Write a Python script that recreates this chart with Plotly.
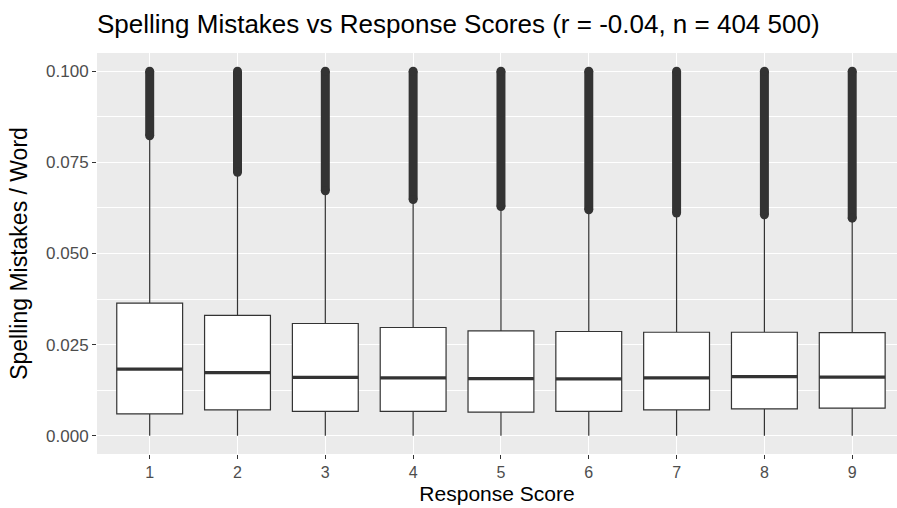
import plotly.graph_objects as go

# response scores and box statistics
scores = [1, 2, 3, 4, 5, 6, 7, 8, 9]
q1 = [0.0060, 0.0071, 0.0067, 0.0067, 0.0065, 0.0067, 0.0071, 0.0074, 0.0076]
median = [0.0183, 0.0173, 0.0160, 0.0159, 0.0157, 0.0156, 0.0159, 0.0162, 0.0161]
q3 = [0.0364, 0.0330, 0.0308, 0.0297, 0.0288, 0.0286, 0.0284, 0.0284, 0.0283]
whisker_low = [0.0, 0.0, 0.0, 0.0, 0.0, 0.0, 0.0, 0.0, 0.0]
whisker_high = [0.0815, 0.0715, 0.0665, 0.0640, 0.0622, 0.0612, 0.0604, 0.0598, 0.0590]
# outliers form a solid column from just above the whisker to the 0.1 cap
outlier_min = [0.0823, 0.0723, 0.0672, 0.0648, 0.0629, 0.0620, 0.0611, 0.0606, 0.0597]
outlier_max = [0.100, 0.100, 0.100, 0.100, 0.100, 0.100, 0.100, 0.100, 0.100]

y_ticks = [0.0, 0.025, 0.05, 0.075, 0.1]
y_labels = ["0.000", "0.025", "0.050", "0.075", "0.100"]

DARK = "#333333"
BOX_W = 0.75
FONT = "Liberation Sans, Arial, sans-serif"
W, H = 897, 508

fig = go.Figure()

fig.add_trace(
    go.Box(
        x=scores, q1=q1, median=median, q3=q3,
        lowerfence=whisker_low, upperfence=whisker_high,
        width=BOX_W, whiskerwidth=0, boxpoints=False,
        fillcolor="white", line=dict(color=DARK, width=1.2),
        hoverinfo="skip",
    )
)

# thick median bars (ggplot fattens the median line)
mx, my = [], []
for s, m in zip(scores, median):
    mx += [s - BOX_W / 2, s + BOX_W / 2, None]
    my += [m, m, None]
fig.add_trace(
    go.Scatter(x=mx, y=my, mode="lines", line=dict(color=DARK, width=3.2), hoverinfo="skip")
)

# outlier columns
ox, oy = [], []
for s, lo, hi in zip(scores, outlier_min, outlier_max):
    ox += [s, s, None]
    oy += [lo, hi, None]
fig.add_trace(
    go.Scatter(
        x=ox, y=oy, mode="lines+markers",
        line=dict(color=DARK, width=9),
        marker=dict(color=DARK, size=9),
        hoverinfo="skip",
    )
)

fig.update_layout(
    width=W, height=H,
    margin=dict(l=97, r=0, t=53, b=54),
    paper_bgcolor="white",
    plot_bgcolor="#EBEBEB",
    showlegend=False,
    font=dict(family=FONT, color="#000000"),
    title=dict(
        text="Spelling Mistakes vs Response Scores (r = -0.04, n = 404 500)",
        xref="container", x=97 / W, xanchor="left",
        yref="container", y=1 - 24 / H, yanchor="middle",
        font=dict(size=26, color="black"),
    ),
)
fig.update_xaxes(
    range=[0.4, 9.51], tickvals=scores, ticktext=[str(s) for s in scores],
    showgrid=True, gridcolor="white", gridwidth=1.1, zeroline=False, automargin=False,
    ticks="outside", ticklen=4, tickcolor=DARK, tickwidth=1.1,
    tickfont=dict(size=16, color="#4D4D4D"),
    title=dict(text="Response Score", font=dict(size=21, color="black"), standoff=6),
)
fig.update_yaxes(
    range=[-0.005, 0.105], tickvals=y_ticks, ticktext=y_labels,
    showgrid=True, gridcolor="white", gridwidth=1.1, zeroline=False, automargin=False,
    minor=dict(dtick=0.0125, tick0=0, showgrid=True, gridcolor="white", gridwidth=0.5),
    ticks="outside", ticklen=4, tickcolor=DARK, tickwidth=1.1,
    tickfont=dict(size=17, color="#4D4D4D"),
    title=dict(text="Spelling Mistakes / Word", font=dict(size=23, color="black"), standoff=12),
)

fig.write_html(
    "out.html",
    config={"displayModeBar": False},
    post_script="document.body.style.margin='0';document.body.style.overflow='hidden';",
)
